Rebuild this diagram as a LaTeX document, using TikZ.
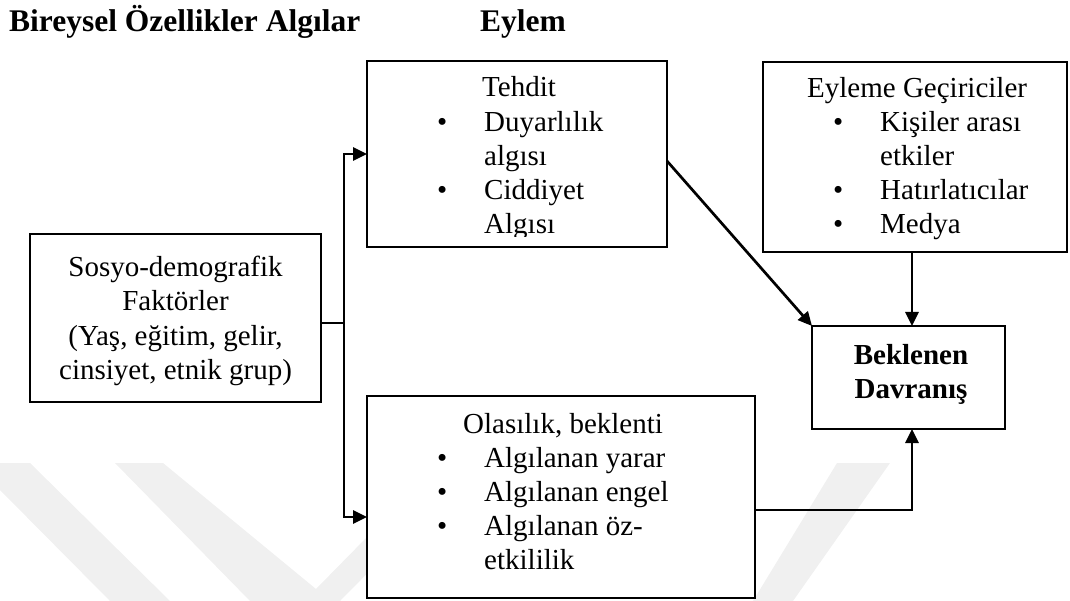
\documentclass[tikz,border=0pt]{standalone}
\usepackage{fontspec}
\setmainfont{Liberation Serif}
\usetikzlibrary{arrows.meta}
\begin{document}
\begin{tikzpicture}[x=1pt,y=-1pt,
  box/.style={draw,fill=white,line width=2.7pt,inner sep=0pt,outer sep=0pt},
  txt/.style={inner sep=0pt,anchor=base west,font=\fontsize{29}{34}\selectfont},
  ctxt/.style={txt,anchor=base},
  bold/.style={ctxt,font=\fontsize{29}{34}\selectfont\bfseries},
  head/.style={txt,font=\fontsize{31.5}{36}\selectfont\bfseries},
  conn/.style={line width=2.7pt},
  arr/.style={conn,-{Triangle[length=14pt,width=13pt]}},
  wm/.style={fill=black!6,draw=none}]
\useasboundingbox (0,0) rectangle (1070,601);

% faint background emblem
\fill[wm] (0,490) -- (0,463) -- (30,463) -- (170,601) -- (110,601) -- cycle;
\fill[wm] (115,463) -- (163,463) -- (316,589) -- (420,483) -- (420,520) -- (340,601)
  -- (250,601) -- cycle;
\fill[wm] (837,463) -- (890,463) -- (793,601) -- (753,601) -- cycle;

% column headings
\node[head] (h1) at (9,32) {Bireysel Özellikler Algılar};
\node[head] (h2) at (480,32) {Eylem};

% boxes
\node[box,minimum width=300pt,minimum height=186pt] (tehdit) at (517,154) {};
\node[box,minimum width=304pt,minimum height=190pt] (eyleme) at (915,157) {};
\node[box,minimum width=291pt,minimum height=168pt] (sosyo) at (175.5,318) {};
\node[box,minimum width=388pt,minimum height=202pt] (olasilik) at (561,497) {};
\node[box,minimum width=193pt,minimum height=103pt] (beklenen) at (908.5,377.5) {};

% threat box text (the last line is cut by the box)
\begin{scope}
\clip (367,61) rectangle (667,237);
\node[txt] (t0) at (482,97) {Tehdit};
\node[txt] (tb1) at (437,132) {•};
\node[txt] (t1) at (484,132) {Duyarlılık};
\node[txt] (t2) at (484,166) {algısı};
\node[txt] (tb2) at (437,200) {•};
\node[txt] (t3) at (484,200) {Ciddiyet};
\node[txt] (t4) at (484,234) {Algısı};
\end{scope}

% cues to action
\node[txt] (e0) at (807,98) {Eyleme Geçiriciler};
\node[txt] (eb1) at (833,132) {•};
\node[txt] (e1) at (880,132) {Kişiler arası};
\node[txt] (e2) at (880,166) {etkiler};
\node[txt] (eb2) at (833,200) {•};
\node[txt] (e3) at (880,200) {Hatırlatıcılar};
\node[txt] (eb3) at (833,234) {•};
\node[txt] (e4) at (880,234) {Medya};

% socio-demographic factors
\node[ctxt] (s1) at (175.5,277) {Sosyo-demografik};
\node[ctxt] (s2) at (175.5,311) {Faktörler};
\node[ctxt] (s3) at (175.5,345) {(Yaş, eğitim, gelir,};
\node[ctxt] (s4) at (175.5,379) {cinsiyet, etnik grup)};

% likelihood box text
\node[txt] (o0) at (463,433) {Olasılık, beklenti};
\node[txt] (ob1) at (437,467) {•};
\node[txt] (o1) at (484,467) {Algılanan yarar};
\node[txt] (ob2) at (437,501) {•};
\node[txt] (o2) at (484,501) {Algılanan engel};
\node[txt] (ob3) at (437,535) {•};
\node[txt] (o3) at (484,535) {Algılanan öz-};
\node[txt] (o4) at (484,569) {etkililik};

% expected behaviour
\node[bold] (b1) at (911,364) {Beklenen};
\node[bold] (b2) at (911,398) {Davranış};

% connectors
\draw[conn] ([yshift=-5pt]sosyo.east) -- ++(23,0) coordinate (j);
\draw[arr] (j) |- (tehdit.west);
\draw[arr] (j) |- ([yshift=-20pt]olasilik.west);
\draw[arr] ([yshift=-7pt]tehdit.east) -- (beklenen.north west);
\draw[arr] ([xshift=3.5pt]beklenen.north |- eyleme.south) -- ([xshift=3.5pt]beklenen.north);
\draw[arr] ([yshift=-13pt]olasilik.east) -| ([xshift=3.5pt]beklenen.south);
\end{tikzpicture}
\end{document}
